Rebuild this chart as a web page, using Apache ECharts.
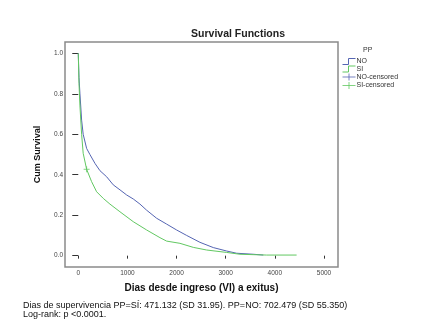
<!DOCTYPE html>
<html>
<head>
<meta charset="utf-8">
<script src="https://cdn.jsdelivr.net/npm/echarts@6/dist/echarts.min.js"></script>
<style>
  html, body { margin: 0; padding: 0; background: #fff; }
  #chart { width: 444px; height: 336px; }
</style>
</head>
<body>
<div id="chart"></div>
<script>
// Kaplan-Meier curves (days, cumulative survival)
const noDays = [0, 15, 34, 68, 100, 170, 237, 340, 441, 577, 712, 850, 984, 1120, 1255, 1390, 1594, 1798, 2001, 2205, 2476, 2747, 3019, 3222, 3562, 3765];
const noSurv = [1.0, 0.88, 0.80, 0.67, 0.60, 0.53, 0.50, 0.456, 0.42, 0.39, 0.35, 0.325, 0.30, 0.28, 0.255, 0.225, 0.185, 0.156, 0.127, 0.10, 0.066, 0.04, 0.023, 0.012, 0.007, 0.003];
const siDays = [0, 15, 34, 68, 100, 170, 271, 373, 509, 644, 848, 1119, 1391, 1662, 1798, 2069, 2340, 2612, 3019, 3290, 3833, 4443];
const siSurv = [1.0, 0.85, 0.74, 0.60, 0.506, 0.427, 0.366, 0.316, 0.283, 0.255, 0.217, 0.168, 0.127, 0.089, 0.072, 0.061, 0.041, 0.028, 0.016, 0.007, 0.003, 0.003];
const siCensDays = [170];
const siCensSurv = [0.427];
const noCensDays = [];
const noCensSurv = [];

const xTicks = [0, 1000, 2000, 3000, 4000, 5000];
const yTicks = [0, 0.2, 0.4, 0.6, 0.8, 1.0];
const seriesNames = ["NO", "SI", "NO-censored", "SI-censored"];

const blue = "#5565b3";
const green = "#62c862";
const font = "Liberation Sans";

const zip = (a, b) => a.map((v, i) => [v, b[i]]);
const stepIcon = "path://M0,7 L6,7 L6,1 L13,1";
const crossIcon = "path://M0,3.5 L13,3.5 M6.5,0 L6.5,7";
const crossMark = "path://M0,5 L10,5 M5,0 L5,10";

const chart = echarts.init(document.getElementById("chart"));
chart.setOption({
  animation: false,
  textStyle: { fontFamily: font },
  title: {
    text: "Survival Functions",
    left: 233,
    textAlign: "center",
    top: 24,
    textStyle: { fontSize: 10.5, fontWeight: "bold", color: "#222", fontFamily: font },
  },
  grid: {
    left: 65, right: 106, top: 42, bottom: 69,
    show: true, borderColor: "#8a8a8a", borderWidth: 1.5, backgroundColor: "#fff",
  },
  legend: {
    orient: "vertical",
    left: 340,
    top: 56,
    padding: 0,
    itemGap: -3.5,
    itemWidth: 13,
    itemHeight: 7,
    textStyle: { fontSize: 7, color: "#333", padding: [0, 0, 0, -4] },
    data: [
      { name: "NO", icon: stepIcon, itemStyle: { color: "none", borderColor: blue, borderWidth: 1 } },
      { name: "SI", icon: stepIcon, itemStyle: { color: "none", borderColor: green, borderWidth: 1 } },
      { name: "NO-censored", icon: crossIcon, itemStyle: { color: "none", borderColor: blue, borderWidth: 1 } },
      { name: "SI-censored", icon: crossIcon, itemStyle: { color: "none", borderColor: green, borderWidth: 1 } },
    ],
  },
  graphic: [
    { type: "text", left: 363, top: 47, style: { text: "PP", fontSize: 7, fill: "#333", fontFamily: font } },
    {
      type: "text", left: 23, top: 301,
      style: {
        text: "Dias de supervivencia PP=SÍ: 471.132 (SD 31.95). PP=NO: 702.479 (SD 55.350)\nLog-rank: p <0.0001.",
        fontSize: 9, lineHeight: 8.7, fill: "#111", fontFamily: font,
      },
    },
  ],
  xAxis: {
    type: "value",
    min: -270,
    max: 5285,
    name: "Dias desde ingreso (VI) a exitus)",
    nameLocation: "middle",
    nameGap: 16,
    nameTextStyle: { fontSize: 10, fontWeight: "bold", color: "#111" },
    axisLine: { show: false },
    splitLine: { show: false },
    axisTick: { show: true, length: 3, customValues: xTicks, lineStyle: { color: "#333" } },
    axisLabel: { customValues: xTicks, fontSize: 6.5, color: "#444", margin: 3, formatter: (v) => String(v) },
  },
  yAxis: {
    type: "value",
    min: -0.056,
    max: 1.056,
    name: "Cum Survival",
    nameLocation: "middle",
    nameGap: 23,
    nameTextStyle: { fontSize: 9, fontWeight: "bold", color: "#111" },
    axisLine: { show: false },
    splitLine: { show: false },
    axisTick: { show: true, length: 6, customValues: yTicks, lineStyle: { color: "#333" } },
    axisLabel: {
      customValues: yTicks, fontSize: 6.5, color: "#444", margin: 2,
      formatter: (v) => v.toFixed(1),
    },
  },
  series: [
    {
      name: seriesNames[0], type: "line", data: zip(noDays, noSurv),
      showSymbol: false, color: blue, lineStyle: { width: 1, color: blue }, z: 2,
    },
    {
      name: seriesNames[1], type: "line", data: zip(siDays, siSurv),
      showSymbol: false, color: green, lineStyle: { width: 1, color: green }, z: 3,
    },
    {
      name: seriesNames[2], type: "scatter", data: zip(noCensDays, noCensSurv),
      symbol: crossMark, symbolSize: 6, color: blue,
      itemStyle: { color: "none", borderColor: blue, borderWidth: 1 },
    },
    {
      name: seriesNames[3], type: "scatter", data: zip(siCensDays, siCensSurv),
      symbol: crossMark, symbolSize: 6, color: green,
      itemStyle: { color: "none", borderColor: green, borderWidth: 1 },
    },
  ],
});
</script>
</body>
</html>
